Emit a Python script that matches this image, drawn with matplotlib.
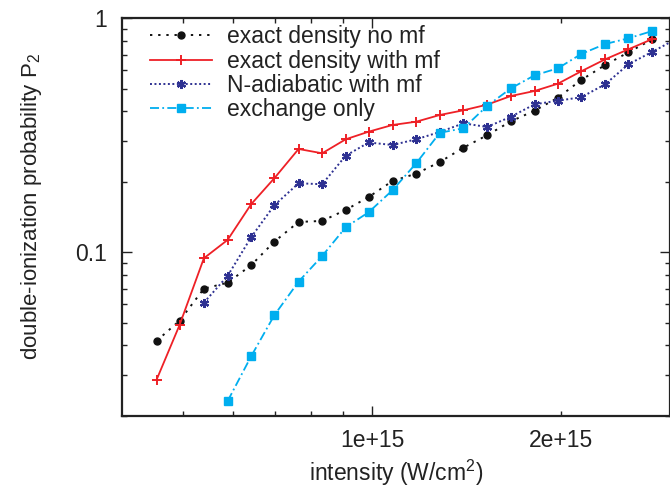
import matplotlib
matplotlib.use("Agg")
import matplotlib.pyplot as plt
from matplotlib.ticker import FixedLocator, FuncFormatter, NullFormatter

plt.rcParams['font.family'] = ['Liberation Sans', 'DejaVu Sans']
plt.rcParams['mathtext.fontset'] = 'custom'
plt.rcParams['mathtext.rm'] = 'Liberation Sans'
plt.rcParams['mathtext.it'] = 'Liberation Sans:italic'

# intensities (W/cm^2)
intensity = [0.454e15, 0.494e15, 0.540e15, 0.589e15, 0.642e15, 0.699e15, 0.764e15,
             0.833e15, 0.908e15, 0.988e15, 1.078e15, 1.176e15, 1.282e15, 1.398e15,
             1.524e15, 1.664e15, 1.814e15, 1.976e15, 2.152e15, 2.350e15, 2.559e15,
             2.794e15, 3.047e15]

exact_no_mf = [0.0418, 0.0510, 0.0699, 0.0741, 0.0880, 0.111, 0.1348, 0.1361, 0.1517,
               0.1723, 0.2017, 0.2168, 0.2431, 0.2800, 0.3162, 0.3630, 0.4028, 0.4576,
               0.5448, 0.6316, 0.7155, 0.8133]
exact_with_mf = [0.0285, 0.0489, 0.0943, 0.1129, 0.1604, 0.2072, 0.2763, 0.2649, 0.3040,
                 0.3277, 0.3500, 0.3615, 0.3862, 0.4045, 0.4273, 0.4656, 0.4890, 0.5254,
                 0.5935, 0.6680, 0.7372, 0.8156]
n_adiabatic = [0.0609, 0.0792, 0.1159, 0.1588, 0.1972, 0.1953, 0.2587, 0.2946, 0.2874,
               0.3040, 0.3267, 0.3558, 0.3431, 0.3797, 0.4290, 0.4445, 0.4597, 0.5224,
               0.6360, 0.7197, 0.815]
exchange_only = [0.0231, 0.0359, 0.0538, 0.0749, 0.0964, 0.1279, 0.1484, 0.1842, 0.2403,
                 0.3241, 0.3388, 0.4218, 0.5022, 0.5706, 0.6112, 0.7037, 0.7765, 0.8213,
                 0.8826]

labels = ["exact density no mf", "exact density with mf", "N-adiabatic with mf", "exchange only"]
x_major = [1e15]
x_major_labels = ["1e+15"]
x_minor = [5e14, 6e14, 7e14, 8e14, 9e14, 2e15]
x_minor_labels = {2e15: "2e+15"}
y_major = [0.1, 1.0]
y_major_labels = ["0.1", "1"]

fig = plt.figure(figsize=(6.7, 4.88), dpi=100)
ax = fig.add_axes([122/670, 1-416.3/488, 548/670, (416.3-18.3)/488])

fs = 16.5
ink = '#222222'
ax.plot(intensity[:22], exact_no_mf, color='#111111', ls=(0, (1.2, 3.0)), lw=1.4,
        marker='o', ms=5, label=labels[0])
ax.plot(intensity[:22], exact_with_mf, color='#ee2026', ls='-', lw=1.3,
        marker='+', ms=6.5, mew=1.4, label=labels[1])
ax.plot(intensity[2:23], n_adiabatic, color='#2e3192', ls=(0, (1, 1.3)), lw=1.4,
        marker=(6, 2, 0), ms=6.5, mew=1.6, label=labels[2])
ax.plot(intensity[3:22], exchange_only, color='#00aeef', ls=(0, (5, 1.8, 1, 1.8)), lw=1.3,
        marker='s', ms=5.5, label=labels[3])

ax.set_xscale('log')
ax.set_yscale('log')
ax.set_xlim(4.0e14, 2.98e15)
ax.set_ylim(0.0199, 1.0)

ax.xaxis.set_major_locator(FixedLocator(x_major))
ax.xaxis.set_major_formatter(FuncFormatter(lambda v, p: x_major_labels[0]))
ax.xaxis.set_minor_locator(FixedLocator(x_minor))
ax.xaxis.set_minor_formatter(FuncFormatter(
    lambda v, p: next((s for k, s in x_minor_labels.items() if abs(v - k) < 1e12), "")))
ax.yaxis.set_major_locator(FixedLocator(y_major))
ax.yaxis.set_major_formatter(FuncFormatter(
    lambda v, p: y_major_labels[y_major.index(min(y_major, key=lambda t: abs(t - v)))]))
ax.yaxis.set_minor_formatter(NullFormatter())

ax.tick_params(which='both', direction='in', colors=ink, labelsize=fs,
               labelcolor=ink, width=1.0, top=True, right=True)
ax.tick_params(which='major', length=7)
ax.tick_params(which='minor', length=3.5)
ax.tick_params(axis='x', which='both', pad=9)
ax.tick_params(axis='y', which='both', pad=11)

for s in ax.spines.values():
    s.set_linewidth(1.6)
    s.set_color(ink)

ax.set_xlabel("intensity (W/cm$^2$)", fontsize=fs, color=ink)
ax.set_ylabel("double-ionization probability P$_2$", fontsize=16, color=ink)
ax.xaxis.set_label_coords(0.5, -0.105)
ax.yaxis.set_label_coords(-0.143, 0.527)

leg = ax.legend(loc='upper left', bbox_to_anchor=(28/548, 1 - 7/398), frameon=False,
                fontsize=fs, handlelength=2.7, handletextpad=0.65, labelspacing=0.06,
                borderpad=0, borderaxespad=0, labelcolor=ink)

fig.savefig("out.png", dpi=100)
